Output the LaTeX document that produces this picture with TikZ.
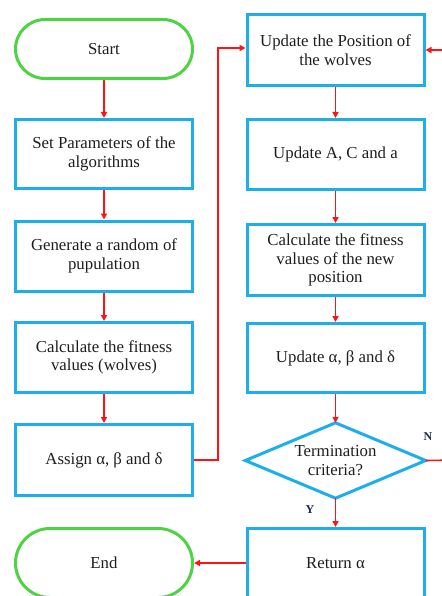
\documentclass[tikz,border=0pt]{standalone}
\usepackage{fontspec}
\setmainfont{Liberation Serif}
\usetikzlibrary{arrows.meta}
\definecolor{boxblue}{RGB}{30,174,235}
\definecolor{termgreen}{RGB}{80,210,70}
\definecolor{linered}{RGB}{255,20,20}
\definecolor{lblnavy}{RGB}{30,40,90}
\definecolor{txt}{RGB}{30,30,30}
\begin{document}
\begin{tikzpicture}[x=1pt,y=-1pt,
  procbox/.style={draw=boxblue,line width=3pt,minimum width=177pt,align=center,
    font=\fontsize{16.8}{18.5}\selectfont,text=txt,inner sep=1pt},
  termbox/.style={draw=termgreen,line width=3pt,minimum width=177pt,align=center,
    font=\fontsize{16.8}{18.5}\selectfont,text=txt},
  flow/.style={draw=linered,line width=1.6pt,-{Triangle[length=6pt,width=6pt]}},
  yn/.style={font=\fontsize{12}{14}\selectfont\bfseries,text=lblnavy}
]
\useasboundingbox (0,0) rectangle (441,596);
% left column
\node[termbox,minimum height=59pt,rounded corners=29.5pt] (start) at (104,49) {Start};
\node[procbox,minimum height=69pt] (params) at (104,154) {Set Parameters of the\\ algorithms};
\node[procbox,minimum height=70pt] (gen) at (104,256) {Generate a random of\\ pupulation};
\node[procbox,minimum height=70pt] (fit) at (104,357.5) {Calculate the fitness\\ values (wolves)};
\node[procbox,minimum height=71pt] (assign) at (104,460) {Assign α, β and δ};
\node[termbox,minimum height=69pt,rounded corners=34.5pt] (end) at (104,563) {End};
% right column
\node[procbox,minimum height=71pt] (upos) at (335.5,50) {Update the Position of\\ the wolves};
\node[procbox,minimum height=70pt] (uacr) at (335.5,154.5) {Update A, C and a};
\node[procbox,minimum height=71pt] (cfn) at (335.5,260) {Calculate the fitness\\ values of the new\\ position};
\node[procbox,minimum height=69pt] (uabd) at (335.5,358) {Update α, β and δ};
\node[minimum width=180pt,minimum height=75pt,inner sep=0pt,align=center,
  font=\fontsize{16.8}{18.5}\selectfont,text=txt] (dia) at (335.5,460.5) {Termination\\ criteria?};
\draw[boxblue,line width=3pt,line join=miter] (dia.north) -- (dia.east) -- (dia.south) -- (dia.west) -- cycle;
\node[procbox,minimum height=69pt] (ret) at (335.5,563) {Return α};
% connectors
\draw[flow] (start) -- (params);
\draw[flow] (params) -- (gen);
\draw[flow] (gen) -- (fit);
\draw[flow] (fit) -- (assign);
\draw[flow] (assign.east) -- (218,460) |- (upos.west |- 0,48);
\draw[flow] (upos) -- (uacr);
\draw[flow] (uacr) -- (cfn);
\draw[flow] (cfn) -- (uabd);
\draw[flow] (uabd) -- (dia.north);
\draw[flow] (dia.south) -- (ret);
\draw[flow] (ret.west) -- (end.east);
\coordinate (loopr) at (460,460);
\draw[flow] (dia.east) -- (loopr) |- (upos.east);
\node[yn] (ylbl) at (310,510) {Y};
\node[yn] (nlbl) at (428,437) {N};
\end{tikzpicture}
\end{document}
